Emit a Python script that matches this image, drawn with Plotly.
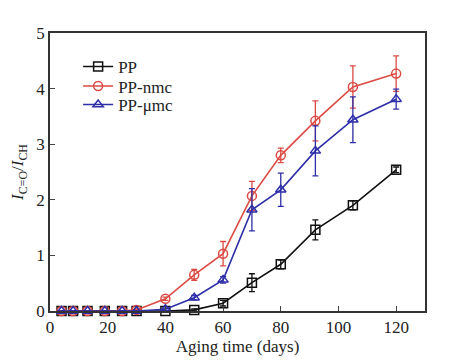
import plotly.graph_objects as go

x_days = [4, 8, 13, 19, 25, 30, 40, 50, 60, 70, 80, 92, 105, 120]

pp_vals = [0, 0, 0, 0, 0, 0, 0, 0.02, 0.14, 0.51, 0.84, 1.46, 1.9, 2.54]
pp_err = [0, 0, 0, 0, 0, 0, 0, 0.02, 0.05, 0.16, 0.08, 0.18, 0.08, 0.05]

nmc_vals = [0, 0, 0, 0, 0, 0.02, 0.22, 0.65, 1.03, 2.07, 2.8, 3.42, 4.03, 4.27]
nmc_err = [0, 0, 0, 0, 0, 0.02, 0.03, 0.1, 0.22, 0.26, 0.13, 0.36, 0.38, 0.32]

umc_vals = [0, 0, 0, 0, 0, 0, 0.03, 0.24, 0.56, 1.82, 2.18, 2.88, 3.44, 3.81]
umc_err = [0, 0, 0, 0, 0, 0, 0.02, 0.04, 0.06, 0.38, 0.3, 0.45, 0.41, 0.18]

x_ticks = [0, 20, 40, 60, 80, 100, 120]
y_ticks = [0, 1, 2, 3, 4, 5]

series = [
    ("PP", pp_vals, pp_err, "#111111", "square-open", "legend"),
    ("PP-nmc", nmc_vals, nmc_err, "#dc4a44", "circle-open", "legend2"),
    ("PP-μmc", umc_vals, umc_err, "#2e2ea8", "triangle-up-open", "legend3"),
]

fig = go.Figure()
for name, vals, err, color, sym, leg in series:
    fig.add_trace(go.Scatter(
        x=x_days, y=vals, name=name, mode="lines+markers", legend=leg,
        line=dict(color=color, width=1.6),
        marker=dict(symbol=sym, size=9, color=color, line=dict(width=1.5, color=color)),
        error_y=dict(type="data", array=err, visible=True, color=color, thickness=1.3, width=3),
        cliponaxis=False,
    ))

font_fam = "Liberation Serif, Times New Roman, serif"
leg_font = dict(size=17, family=font_fam, color="#222222")
leg_common = dict(x=0.075, xanchor="left", yanchor="middle",
                  bgcolor="rgba(0,0,0,0)", font=leg_font, itemwidth=30)

fig.update_layout(
    width=456, height=364,
    margin=dict(l=42, r=39, t=25, b=61, autoexpand=False),
    paper_bgcolor="white", plot_bgcolor="white",
    font=dict(family=font_fam, size=17, color="#222222"),
    showlegend=True,
    legend=dict(y=0.878, **leg_common),
    legend2=dict(y=0.808, **leg_common),
    legend3=dict(y=0.741, **leg_common),
    xaxis=dict(range=[0, 130], tickvals=x_ticks, ticks="inside", ticklen=5,
               showline=True, linecolor="#333333", linewidth=1.5, mirror=True,
               showgrid=False, zeroline=False, automargin=False,
               title=dict(text="Aging time (days)", font=dict(size=17), standoff=0)),
    yaxis=dict(range=[0, 5], tickvals=y_ticks, ticks="inside", ticklen=5,
               showline=True, linecolor="#333333", linewidth=1.5, mirror=True,
               showgrid=False, zeroline=False, automargin=False,
               title=dict(text="<i>I</i><sub>C=O</sub>/<i>I</i><sub>CH</sub>", font=dict(size=17), standoff=14)),
)

fig.write_html("out.html")
